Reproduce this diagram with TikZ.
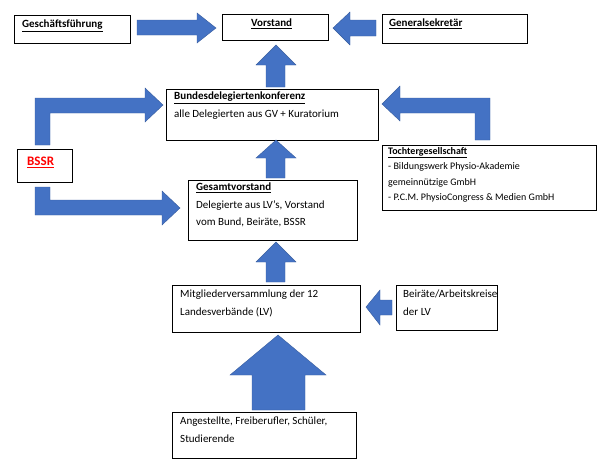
\documentclass[tikz,border=0pt]{standalone}
\usepackage{fontspec}
\setmainfont{Carlito}
\begin{document}
\begin{tikzpicture}[x=1pt,y=-1pt,
  box/.style={draw=black,line width=0.7pt,fill=white},
  txt/.style={anchor=north west,align=left,inner sep=0pt,font=\fontsize{11}{17.5}\selectfont},
  arr/.style={fill=arrowblue,draw=arrowblue!80!black,line width=0.4pt}]
\definecolor{arrowblue}{HTML}{4472C4}
\useasboundingbox (0,0) rectangle (600,475);
% boxes
\node[box,minimum width=116,minimum height=28,anchor=north west] (gf) at (14,15) {};
\node[txt] at (22,20) {\underline{\textbf{Geschäftsführung}}};
\node[box,minimum width=106,minimum height=26,anchor=north west] (vs) at (222,14) {};
\node[txt] at (251,19) {\underline{\textbf{Vorstand}}};
\node[box,minimum width=145,minimum height=29,anchor=north west] (gs) at (382,14) {};
\node[txt] at (389,19) {\underline{\textbf{Generalsekretär}}};
\node[box,minimum width=212,minimum height=51,anchor=north west] (bdk) at (166,89) {};
\node[txt] at (174,92) {\underline{\textbf{Bundesdelegiertenkonferenz}}\\alle Delegierten aus GV + Kuratorium};
\node[box,minimum width=55,minimum height=33,anchor=north west] (bssr) at (17,149) {};
\node[txt] at (27,157) {\fontsize{13}{15}\selectfont\color{red}\underline{\textbf{BSSR}}};
\node[box,minimum width=214,minimum height=65,anchor=north west] (toch) at (382,145) {};
\node[txt,font=\fontsize{10}{15.5}\selectfont] at (388,147) {\underline{\textbf{Tochtergesellschaft}}\\- Bildungswerk Physio-Akademie\\gemeinnützige GmbH\\- P.C.M. PhysioCongress \& Medien GmbH};
\node[box,minimum width=169,minimum height=60,anchor=north west] (gv) at (188,180) {};
\node[txt] at (196,183) {\underline{\textbf{Gesamtvorstand}}\\Delegierte aus LV’s, Vorstand\\vom Bund, Beiräte, BSSR};
\node[box,minimum width=188,minimum height=47,anchor=north west] (mv) at (172,285) {};
\node[txt] at (180,290) {Mitgliederversammlung der 12\\Landesverbände (LV)};
\node[box,minimum width=101,minimum height=45,anchor=north west] (br) at (396,285) {};
\node[txt] at (403,290) {Beiräte/Arbeitskreise\\der LV};
\node[box,minimum width=184,minimum height=46,anchor=north west] (ang) at (172,412) {};
\node[txt] at (180,417) {Angestellte, Freiberufler, Schüler,\\Studierende};
% arrows
\fill[arr] (137,20) -- (197,20) -- (197,13) -- (216,28) -- (197,43) -- (197,35) -- (137,35) -- cycle;
\fill[arr] (376,20) -- (350,20) -- (350,12) -- (333,28) -- (350,45) -- (350,36) -- (376,36) -- cycle;
\fill[arr] (266,87) -- (266,65) -- (256,65) -- (276,45) -- (296,65) -- (285,65) -- (285,87) -- cycle;
\fill[arr] (266,178) -- (266,158) -- (256,158) -- (276,140) -- (296,158) -- (285,158) -- (285,178) -- cycle;
\fill[arr] (266,282) -- (266,262) -- (256,262) -- (276,242) -- (296,262) -- (285,262) -- (285,282) -- cycle;
\fill[arr] (252,410) -- (252,375) -- (230,375) -- (278,335) -- (326,375) -- (305,375) -- (305,410) -- cycle;
\fill[arr] (392,300) -- (380,300) -- (380,290) -- (366,307) -- (380,325) -- (380,315) -- (392,315) -- cycle;
% bent arrows
\fill[arr] (35,145) -- (35,98) -- (145,98) -- (145,88) -- (163,105) -- (145,122) -- (145,113) -- (50,113) -- (50,145) -- cycle;
\fill[arr] (35,187) -- (35,215) -- (162,215) -- (162,225) -- (180,208) -- (162,191) -- (162,200) -- (50,200) -- (50,187) -- cycle;
\fill[arr] (490,140) -- (490,98) -- (400,98) -- (400,86) -- (382,104) -- (400,121) -- (400,113) -- (475,113) -- (475,140) -- cycle;
\end{tikzpicture}
\end{document}
